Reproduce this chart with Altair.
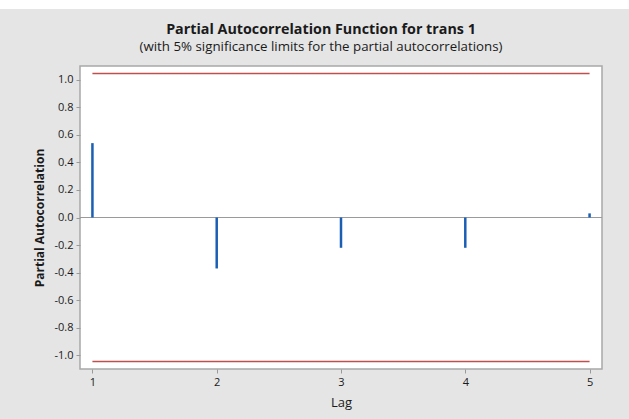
import altair as alt
import pandas as pd

# Partial autocorrelations by lag
lags = [1, 2, 3, 4, 5]
pacf = [0.54, -0.37, -0.22, -0.22, 0.03]
# 5% significance limit
limit = 1.046

y_ticks = [-1.0, -0.8, -0.6, -0.4, -0.2, 0.0, 0.2, 0.4, 0.6, 0.8, 1.0]

title_text = "Partial Autocorrelation Function for trans 1"
subtitle_text = "(with 5% significance limits for the partial autocorrelations)"

FONT = "Open Sans"
INK = "#1a1a1a"

spikes_df = pd.DataFrame({"Lag": lags, "PACF": pacf, "base": [0.0] * len(lags)})
limits_df = pd.DataFrame({
    "start": [lags[0], lags[0]],
    "end": [lags[-1], lags[-1]],
    "limit": [limit, -limit],
})

x_scale = alt.Scale(domain=[0.9, 5.1], nice=False, zero=False)
y_scale = alt.Scale(domain=[-1.1, 1.1], nice=False)

# plain hyphen for negative tick labels
hyphen_labels = "replace(format(datum.value, '.1f'), '\u2212', '-')"

x_axis = alt.Axis(
    values=lags, format="d", title="Lag", grid=False, domain=False,
    tickColor="#9a9a9a", tickSize=4, labelFontSize=11, labelColor=INK,
    labelPadding=3, titleFontSize=13, titleFontWeight="normal",
    titleColor=INK, titlePadding=9, labelFont=FONT, titleFont=FONT,
)
y_axis = alt.Axis(
    values=y_ticks, labelExpr=hyphen_labels, title="Partial Autocorrelation",
    grid=False, domain=False, tickColor="#9a9a9a", tickSize=4,
    labelFontSize=11, labelColor=INK, labelPadding=3, titleFontSize=12,
    titleFontWeight="bold", titleColor=INK, titlePadding=7,
    labelFont=FONT, titleFont=FONT,
)

# Horizontal reference line at zero across the plot
zero_line = alt.Chart(pd.DataFrame({"z": [0.0]})).mark_rule(
    color="#9a9a9a", strokeWidth=1
).encode(y=alt.Y("z:Q", scale=y_scale, axis=y_axis))

# Significance limits
limit_lines = alt.Chart(limits_df).mark_rule(
    color="#c0504d", strokeWidth=1.6
).encode(
    x=alt.X("start:Q", scale=x_scale, axis=x_axis),
    x2="end:Q",
    y=alt.Y("limit:Q", scale=y_scale, axis=y_axis),
)

# PACF spikes
spikes = alt.Chart(spikes_df).mark_rule(
    color="#1a5fb4", strokeWidth=2.5
).encode(
    x=alt.X("Lag:Q", scale=x_scale, axis=x_axis),
    y=alt.Y("base:Q", scale=y_scale, axis=y_axis),
    y2="PACF:Q",
)

# Thin white band along the top edge of the figure
top_band = alt.Chart(pd.DataFrame({"b": [0]})).mark_rect(
    color="white", clip=False
).encode(
    x=alt.value(-90), x2=alt.value(640),
    y=alt.value(-70), y2=alt.value(-57),
)

# Heading and subheading
heading = alt.Chart(pd.DataFrame({"t": [title_text]})).mark_text(
    font=FONT, fontSize=14.3, fontWeight="bold", color=INK,
    align="center", baseline="middle",
).encode(text="t:N", x=alt.value(241), y=alt.value(-36))

subheading = alt.Chart(pd.DataFrame({"t": [subtitle_text]})).mark_text(
    font=FONT, fontSize=13.3, color=INK, align="center", baseline="middle",
).encode(text="t:N", x=alt.value(241), y=alt.value(-19))

chart = alt.layer(
    top_band, zero_line, limit_lines, spikes, heading, subheading
).properties(
    width=522,
    height=303,
    autosize=alt.AutoSizeParams(type="none"),
    padding={"left": 80, "top": 66, "right": 27, "bottom": 50},
    background="#e5e5e5",
).configure_view(
    fill="white", stroke="#a8a8a8", strokeWidth=1.5
)

chart.save("out.html", embed_options={"renderer": "svg", "actions": False})
